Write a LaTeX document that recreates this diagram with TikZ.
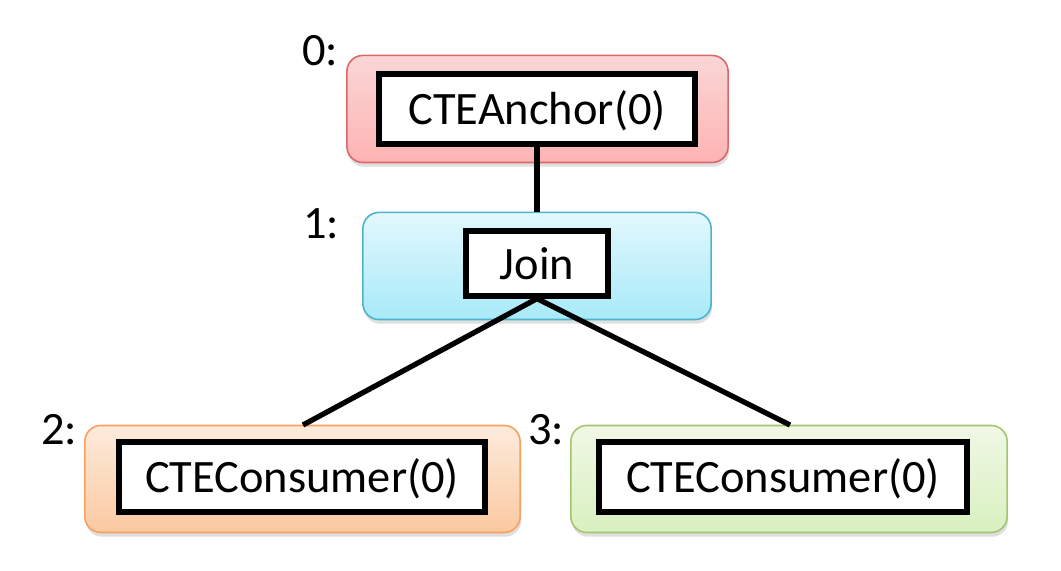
\documentclass[tikz,border=0pt]{standalone}
\usepackage{fontspec}
\setmainfont{Carlito}
\usetikzlibrary{positioning, shadows}
\definecolor{redtop}{HTML}{FAD6D6}
\definecolor{redbot}{HTML}{FFB3B3}
\definecolor{redline}{HTML}{D96868}
\definecolor{bluetop}{HTML}{E2F8FD}
\definecolor{bluebot}{HTML}{A8EAF9}
\definecolor{blueline}{HTML}{4DB3CB}
\definecolor{orangetop}{HTML}{FDEBDD}
\definecolor{orangebot}{HTML}{FBC9A0}
\definecolor{orangeline}{HTML}{F7A060}
\definecolor{greentop}{HTML}{F1F8E6}
\definecolor{greenbot}{HTML}{D8F0BF}
\definecolor{greenline}{HTML}{A3C56E}
\tikzset{%
    stagesty/.style={
        rounded corners=0.16cm,
        draw,
        line width=0.45pt,
        inner sep=0pt,
        minimum height=1.07cm,
        drop shadow={shadow xshift=0.3pt, shadow yshift=-1.2pt, opacity=0.25},
    },
    opsty/.style={
        draw,
        fill=white,
        line width=1.5pt,
        inner sep=0pt,
        minimum height=0.70cm,
        text height=1.0em,
        text depth=0.1em,
        font=\fontsize{13.2}{15}\selectfont,
    },
    numsty/.style={
        inner sep=0pt,
        text depth=0pt,
        font=\fontsize{13.2}{15}\selectfont,
    },
    edgesty/.style={
        line width=1.5pt,
    },
}
\begin{document}
\begin{tikzpicture}[x=0.01cm, y=-0.01cm]
\useasboundingbox (0,0) rectangle (1061,571);

% stage boxes
\node (s0) [stagesty, minimum width=3.81cm, top color=redtop, bottom color=redbot, draw=redline] at (537.5,109) {};
\node (s1) [stagesty, minimum width=3.48cm, top color=bluetop, bottom color=bluebot, draw=blueline] at (537,266) {};
\node (s2) [stagesty, minimum width=4.35cm, top color=orangetop, bottom color=orangebot, draw=orangeline] at (302.5,479) {};
\node (s3) [stagesty, minimum width=4.36cm, top color=greentop, bottom color=greenbot, draw=greenline] at (789,479) {};

% operators
\node (anchor) [opsty, minimum width=3.16cm] at (537,109) {CTEAnchor(0)};
\node (join) [opsty, minimum width=1.42cm, minimum height=0.65cm] at (537,263.5) {Join};
\node (cons2) [opsty, minimum width=3.66cm] at (302,477) {CTEConsumer(0)};
\node (cons3) [opsty, minimum width=3.68cm] at (783,477) {CTEConsumer(0)};

% stage numbers
\node (n0) [numsty] at (320,50) {0:};
\node (n1) [numsty] at (321,224) {1:};
\node (n2) [numsty] at (59,429) {2:};
\node (n3) [numsty] at (546,429) {3:};

% edges
\coordinate (t2) at (303,425);
\coordinate (t3) at (790,425);
\draw [edgesty] (anchor.south) -- (s1.north);
\draw [edgesty] (join.south) -- (t2);
\draw [edgesty] (join.south) -- (t3);

\end{tikzpicture}
\end{document}
